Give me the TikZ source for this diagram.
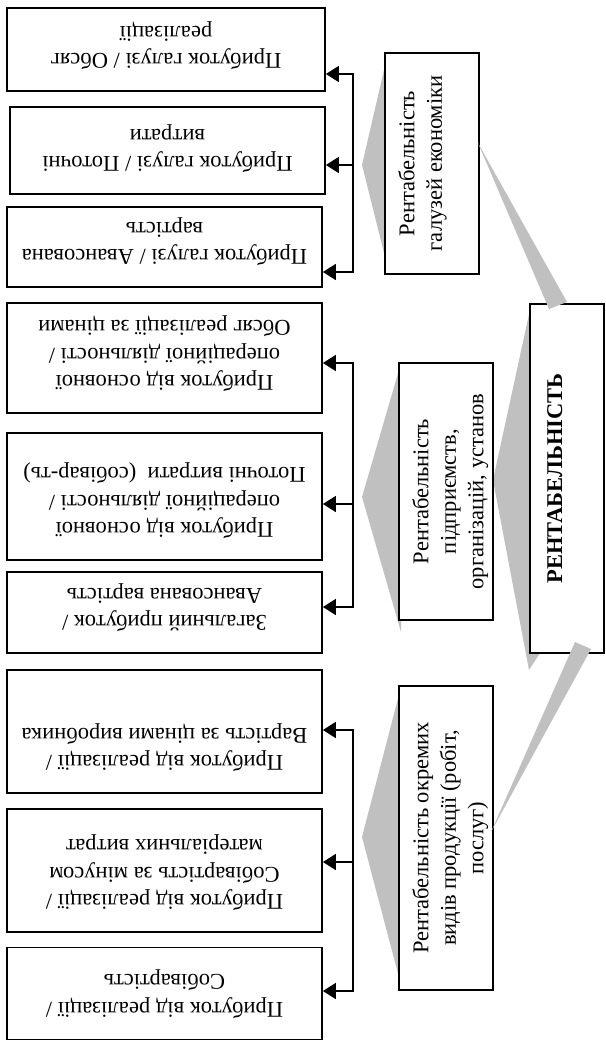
\documentclass[tikz,border=0pt]{standalone}
\usepackage{fontspec}
\setmainfont{Liberation Serif}
\usetikzlibrary{arrows.meta}
\definecolor{wedgegray}{RGB}{192,192,192}
\begin{document}
\begin{tikzpicture}[x=1pt,y=-1pt,
  box/.style={draw, line width=1.8pt, fill=white, inner sep=0pt},
  ltext/.style={font=\fontsize{22.5}{27.5}\selectfont, align=center, inner sep=0pt, rotate=180, anchor=north},
  mtext/.style={font=\fontsize{22.5}{27.5}\selectfont, align=center, inner sep=0pt, rotate=90, anchor=north},
  btext/.style={font=\fontsize{22.5}{27.5}\selectfont\bfseries, align=center, inner sep=0pt, rotate=90, anchor=north},
  wedge/.style={fill=wedgegray, draw=none},
  arr/.style={line width=1.8pt, -{Triangle[length=13pt,width=16pt]}}
]
\useasboundingbox (0,0) rectangle (605,1041);

% gray pointers behind the boxes
\fill[wedge] (387,57) -- (362,165) -- (387,265) -- cycle;
\fill[wedge] (401,363) -- (362,497) -- (401,632) -- cycle;
\fill[wedge] (401,687) -- (362,837) -- (401,985) -- cycle;
\fill[wedge] (531,305) -- (493,480) -- (529,670) -- (540,653) -- (540,305) -- cycle;

% left boxes
\node[box, minimum width=318pt, minimum height=83pt]  (b1) at (166,49.5) {};
\node[box, minimum width=315pt, minimum height=87pt]  (b2) at (167.5,150.5) {};
\node[box, minimum width=315pt, minimum height=80pt]  (b3) at (164.5,247) {};
\node[box, minimum width=315pt, minimum height=110pt] (b4) at (164.5,358) {};
\node[box, minimum width=315pt, minimum height=127pt] (b5) at (164.5,496.5) {};
\node[box, minimum width=315pt, minimum height=81pt]  (b6) at (164.5,612.5) {};
\node[box, minimum width=315pt, minimum height=123pt] (b7) at (164.5,731.5) {};
\node[box, minimum width=315pt, minimum height=123pt] (b8) at (164.5,870.5) {};
\node[box, minimum width=315pt, minimum height=92pt]  (b9) at (164.5,993.5) {};

\node[ltext] (t1) at ([yshift=22pt]b1.south) {Прибуток галузі / Обсяг\\реалізації};
\node[ltext] (t2) at ([yshift=22pt]b2.south) {Прибуток галузі / Поточні\\витрати};
\node[ltext] (t3) at ([yshift=22pt]b3.south) {Прибуток галузі / Авансована\\вартість};
\node[ltext] (t4) at ([yshift=22pt]b4.south) {Прибуток від основної\\операційної діяльності /\\Обсяг реалізації за цінами};
\node[ltext] (t5) at ([yshift=22pt]b5.south) {Прибуток від основної\\операційної діяльності /\\Поточні витрати~ (собівар-ть)};
\node[ltext] (t6) at ([yshift=22pt]b6.south) {Загальний прибуток /\\Авансована вартість};
\node[ltext] (t7) at ([yshift=22pt]b7.south) {Прибуток від реалізації /\\Вартість за цінами виробника};
\node[ltext] (t8) at ([yshift=22pt]b8.south) {Прибуток від реалізації /\\Собівартість за мінусом\\матеріальних витрат};
\node[ltext] (t9) at ([yshift=22pt]b9.south) {Прибуток від реалізації /\\Собівартість};

% middle boxes
\node[box, minimum width=94pt, minimum height=221pt] (m1) at (432,163.5) {};
\node[box, minimum width=94pt, minimum height=257pt] (m2) at (446,491.5) {};
\node[box, minimum width=94pt, minimum height=304pt] (m3) at (446,838) {};
\node[mtext] (mt1) at ([xshift=14pt]m1.west) {Рентабельність\\галузей економіки};
\node[mtext] (mt2) at ([xshift=14pt]m2.west) {Рентабельність\\підприємств,\\організацій, установ};
\node[mtext] (mt3) at ([xshift=14pt]m3.west) {Рентабельність окремих\\видів продукції (робіт,\\послуг)};

% main box
\node[box, minimum width=74pt, minimum height=349pt] (big) at (567,478.5) {};
\node[btext] (bt) at ([xshift=18pt]big.west) {РЕНТАБЕЛЬНІСТЬ};

% gray pointers over the boxes
\fill[wedge] (478,143) -- (549,309) -- (567,302) -- cycle;
\fill[wedge] (575,642) -- (591,649) -- (491,832) -- cycle;

% connectors
\coordinate (j1a) at (353,74);
\coordinate (j1b) at (353,165);
\coordinate (j1c) at (353,272);
\coordinate (j2a) at (353,363);
\coordinate (j2b) at (353,504);
\coordinate (j2c) at (353,607);
\coordinate (j3a) at (353,730);
\coordinate (j3b) at (353,862);
\coordinate (j3c) at (353,991);

\draw[arr] (j1c) -- (j1a) -- (j1a -| b1.east);
\draw[arr] (j1b) -- (j1b -| b2.east);
\draw[arr] (j1a) -- (j1c) -- (j1c -| b3.east);

\draw[arr] (j2c) -- (j2a) -- (j2a -| b4.east);
\draw[arr] (j2b) -- (j2b -| b5.east);
\draw[arr] (j2a) -- (j2c) -- (j2c -| b6.east);

\draw[arr] (j3c) -- (j3a) -- (j3a -| b7.east);
\draw[arr] (j3b) -- (j3b -| b8.east);
\draw[arr] (j3a) -- (j3c) -- (j3c -| b9.east);
\end{tikzpicture}
\end{document}
